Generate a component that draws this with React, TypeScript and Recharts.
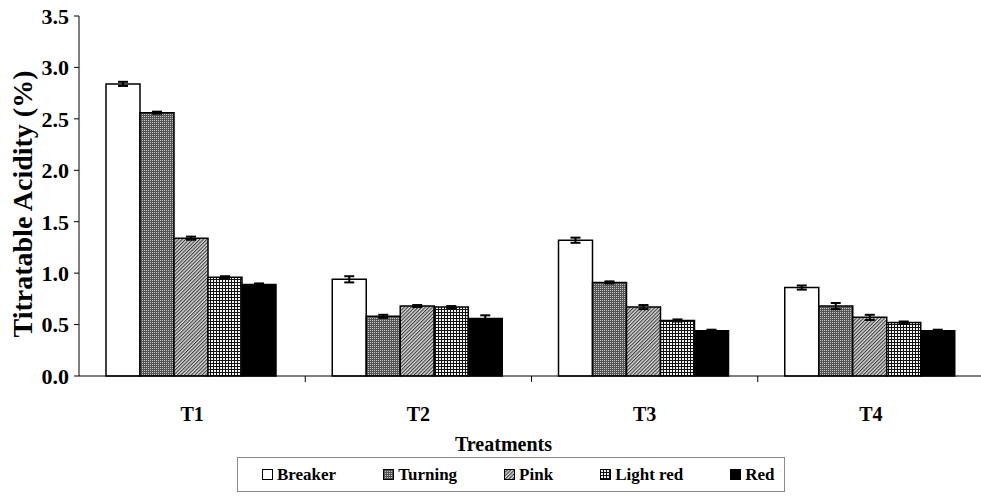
import { Bar, BarChart, ErrorBar, XAxis, YAxis } from "recharts";

// values
const treatments = ["T1", "T2", "T3", "T4"];
const breaker = [2.84, 0.94, 1.32, 0.86];
const turning = [2.56, 0.58, 0.91, 0.68];
const pink = [1.34, 0.68, 0.67, 0.57];
const lightRed = [0.96, 0.67, 0.54, 0.52];
const red = [0.89, 0.56, 0.44, 0.44];

const breakerErr = [0.02, 0.03, 0.025, 0.02];
const turningErr = [0.01, 0.015, 0.01, 0.03];
const pinkErr = [0.015, 0.01, 0.02, 0.025];
const lightRedErr = [0.01, 0.01, 0.01, 0.01];
const redErr = [0.01, 0.03, 0.01, 0.01];

const yTicks = [0, 0.5, 1, 1.5, 2, 2.5, 3, 3.5];

const SERIF = '"Liberation Serif", "Times New Roman", serif';

type Series = { key: string; name: string; fill: string; values: number[]; errors: number[] };

const series: Series[] = [
  { key: "breaker", name: "Breaker", fill: "#ffffff", values: breaker, errors: breakerErr },
  { key: "turning", name: "Turning", fill: "url(#pat-turning)", values: turning, errors: turningErr },
  { key: "pink", name: "Pink", fill: "url(#pat-pink)", values: pink, errors: pinkErr },
  { key: "lightRed", name: "Light red", fill: "url(#pat-lightred)", values: lightRed, errors: lightRedErr },
  { key: "red", name: "Red", fill: "#000000", values: red, errors: redErr }
];

const data = treatments.map((t, i) => {
  const row: Record<string, string | number> = { label: t };
  series.forEach((s) => {
    row[s.key] = s.values[i];
    row[`${s.key}Err`] = s.errors[i];
  });
  return row;
});

// patterns live in their own hidden svg so chart and legend can both use them
function Patterns() {
  return (
    <svg width={0} height={0} style={{ position: "absolute" }}>
      <defs>
        <pattern id="pat-turning" width={2} height={2} patternUnits="userSpaceOnUse">
          <rect width={2} height={2} fill="#555555" />
          <rect width={1} height={1} fill="#c0c0c0" />
        </pattern>
        <pattern
          id="pat-pink"
          width={2.5}
          height={2.5}
          patternUnits="userSpaceOnUse"
          patternTransform="rotate(45)"
        >
          <rect width={2.5} height={2.5} fill="#d8d8d8" />
          <rect width={1.1} height={2.5} fill="#404040" />
        </pattern>
        <pattern id="pat-lightred" width={3} height={3} patternUnits="userSpaceOnUse">
          <rect width={3} height={3} fill="#f4f4f4" />
          <rect width={3} height={1} fill="#111111" />
          <rect width={1} height={3} fill="#111111" />
        </pattern>
      </defs>
    </svg>
  );
}

// category label plus the small tick at the left edge of each band
function CategoryTick(props: any) {
  const { x, y, payload, index } = props;
  const off = payload?.offset ?? 0;
  return (
    <g>
      {index > 0 && off > 0 && (
        <line x1={x - off} x2={x - off} y1={y} y2={y + 6} stroke="#000" strokeWidth={1} />
      )}
      <text
        x={x}
        y={y + 45}
        textAnchor="middle"
        fontFamily={SERIF}
        fontWeight="bold"
        fontSize={20}
        fill="#000"
      >
        {payload.value}
      </text>
    </g>
  );
}

function Legend() {
  return (
    <div
      style={{
        position: "absolute",
        left: 237,
        top: 457,
        width: 548,
        height: 35,
        border: "1px solid #8a8a8a",
        boxSizing: "border-box",
        display: "flex",
        alignItems: "center",
        paddingLeft: 24,
        gap: 47,
        fontFamily: SERIF,
        fontWeight: "bold",
        fontSize: 17,
        color: "#000"
      }}
    >
      {series.map((s) => (
        <div key={s.key} style={{ display: "flex", alignItems: "center" }}>
          <svg width={11} height={11} style={{ marginRight: 4 }}>
            <rect x={0.5} y={0.5} width={10} height={10} fill={s.fill} stroke="#000" strokeWidth={1} />
          </svg>
          <span>{s.name}</span>
        </div>
      ))}
    </div>
  );
}

export default function App() {
  return (
    <div
      style={{
        position: "absolute",
        left: 0,
        top: 0,
        width: 981,
        height: 496,
        overflow: "hidden",
        background: "#ffffff"
      }}
    >
      <Patterns />
      <BarChart
        width={1000}
        height={455}
        data={data}
        margin={{ top: 16, right: 16, bottom: 0, left: 0 }}
        barCategoryGap={27}
        barGap={0}
      >
        <YAxis
          width={79}
          domain={[0, 3.5]}
          ticks={yTicks}
          interval={0}
          tickFormatter={(v: number) => v.toFixed(1)}
          tick={{ fontFamily: SERIF, fontWeight: "bold", fontSize: 22, fill: "#000" }}
          tickSize={5}
          tickMargin={5}
          axisLine={{ stroke: "#000", strokeWidth: 1 }}
          tickLine={{ stroke: "#000", strokeWidth: 1 }}
          label={{
            value: "Titratable Acidity (%)",
            angle: -90,
            position: "insideLeft",
            offset: 22,
            dy: 8,
            style: {
              textAnchor: "middle",
              fontFamily: SERIF,
              fontWeight: "bold",
              fontSize: 28,
              fill: "#000"
            }
          }}
        />
        <XAxis
          dataKey="label"
          height={79}
          tickSize={0}
          tickMargin={0}
          tickLine={false}
          interval={0}
          axisLine={{ stroke: "#000", strokeWidth: 1 }}
          tick={<CategoryTick />}
          label={{
            value: "Treatments",
            position: "insideBottom",
            offset: 4,
            dx: -28,
            style: {
              fontFamily: SERIF,
              fontWeight: "bold",
              fontSize: 20,
              fill: "#000"
            }
          }}
        />
        {series.map((s) => (
          <Bar
            key={s.key}
            dataKey={s.key}
            name={s.name}
            fill={s.fill}
            stroke="#000"
            strokeWidth={1.5}
            isAnimationActive={false}
          >
            <ErrorBar dataKey={`${s.key}Err`} direction="y" width={5} stroke="#000" strokeWidth={2} />
          </Bar>
        ))}
      </BarChart>
      <Legend />
    </div>
  );
}
